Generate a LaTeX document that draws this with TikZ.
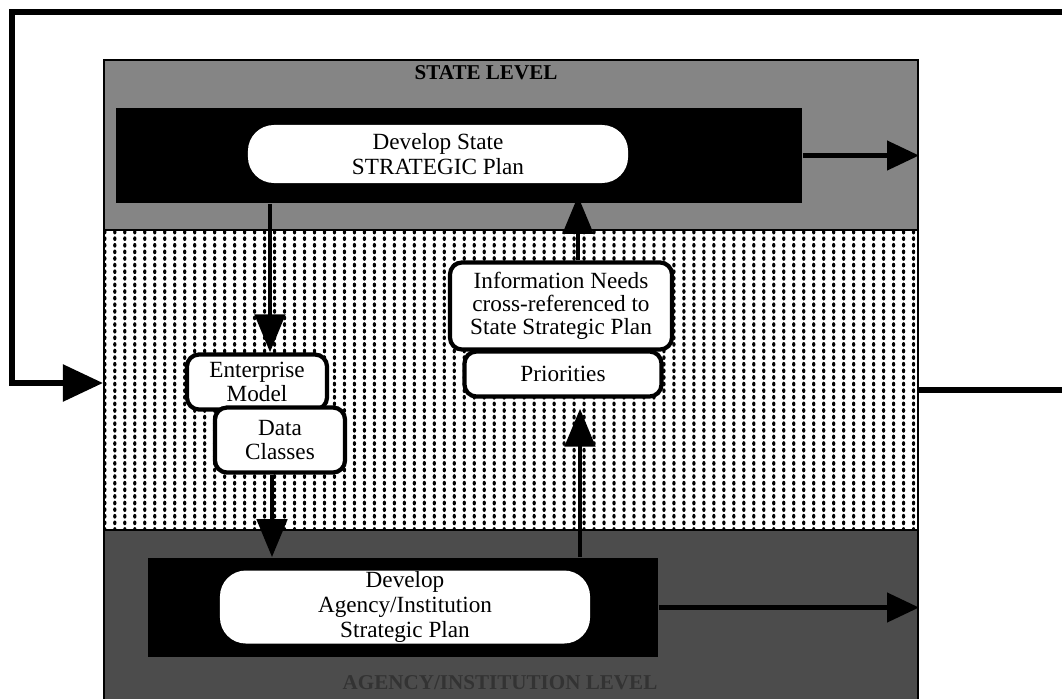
\documentclass[tikz,border=0pt]{standalone}
\usepackage{fontspec}
\setmainfont{Liberation Serif}
\usetikzlibrary{arrows.meta, positioning, fit, patterns.meta}
\definecolor{cstate}{gray}{0.52}
\definecolor{cagency}{gray}{0.30}
\tikzdeclarepattern{
  name=middots,
  type=colored,
  bottom left={(-.1pt,-.1pt)},
  top right={(7.2pt,4.8pt)},
  tile size={(7.1pt,4.7pt)},
  code={
    \tikzset{x=1pt,y=1pt}
    \fill[black] (3.55,2.35) ellipse [x radius=1.2, y radius=1.7];
  }
}
\tikzset{
  every picture/.style={line width=1.2pt},
  band/.style={draw=black, line width=1.5pt, inner sep=0pt},
  panel/.style={fill=black, inner sep=0pt},
  plan/.style={fill=white, rounded corners=0.65cm, align=center, inner sep=0pt, font=\fontsize{16.5}{17.5}\selectfont},
  box/.style={draw=black, fill=white, line width=3pt, rounded corners=0.3cm, align=center, inner sep=2pt, font=\fontsize{16.5}{16.5}\selectfont},
  arrow/.style={-{Triangle[length=0.95cm, width=0.75cm]}, line width=3.5pt},
  outarrow/.style={-{Triangle[length=0.8cm, width=0.72cm]}, line width=3.5pt},
  feedback/.style={-{Triangle[length=1cm, width=0.9cm]}, line width=4pt},
  level/.style={font=\fontsize{15}{15}\selectfont\bfseries},
}

\begin{document}
\begin{tikzpicture}[x=0.025cm, y=0.025cm]
  \useasboundingbox (0,0) rectangle (1062,-698);
  % the three levels
  \node[band, fill=cstate, fit={(104,-60) (918,-230)}] (stateband) {};
  \node[band, pattern=middots, fit={(104,-230) (918,-530)}] (midband) {};
  \node[band, fill=cagency, fit={(104,-530) (918,-706)}] (agencyband) {};
  \node[level] (statelabel) at (486,-73) {STATE LEVEL};
  \node[level, text=black!80] (agencylabel) at (500,-683) {AGENCY/INSTITUTION LEVEL};

  \node[panel, fit={(116,-108) (802,-203)}] (statepanel) {};
  \node[panel, fit={(148,-558) (658,-657)}] (agencypanel) {};
  \node[plan, minimum width=9.5cm, minimum height=1.45cm] (stateplan) at (438,-154) {Develop State\\STRATEGIC Plan};
  \node[plan, minimum width=9.25cm, minimum height=1.825cm] (agencyplan) at (405,-607) {Develop\\Agency/Institution\\Strategic Plan};

  \node[box, minimum width=3.5cm, minimum height=1.375cm] (enterprise) at (257,-382) {Enterprise\\Model};
  \node[box, minimum width=3.25cm, minimum height=1.625cm] (dataclasses) at (280,-440) {Data\\Classes};
  \node[box, minimum width=5.55cm, minimum height=2.175cm] (infoneeds) at (561,-306) {Information Needs\\cross-referenced to\\State Strategic Plan};
  \node[box, minimum width=4.925cm, minimum height=1.125cm] (priorities) at (563,-374) {Priorities};

  % vertical flows
  \coordinate (planin) at ([xshift=0.325cm]enterprise.north);
  \coordinate (dataout) at ([xshift=-0.2cm]dataclasses.south);
  \coordinate (prioin) at ([xshift=0.425cm]priorities.south);
  \coordinate (needsout) at ([xshift=0.425cm]infoneeds.north);
  \draw[arrow] (planin |- statepanel.south) -- (planin);
  \draw[arrow] (dataout) -- (dataout |- agencypanel.north);
  \draw[arrow, shorten >=0.25cm] (prioin |- agencypanel.north) -- (prioin);
  \draw[arrow, shorten >=-0.2cm] (needsout) -- (needsout |- statepanel.south);

  \draw[outarrow] (statepanel.east) -- (statepanel.east -| stateband.east);
  \draw[outarrow] (agencypanel.east) -- (agencypanel.east -| agencyband.east);

  % feedback loop round the top
  \coordinate (loopout) at (1075,-390);
  \coordinate (looptop) at (12,-12);
  \coordinate (loopin) at (12,-383);
  \draw[feedback] (loopout -| midband.east) -- (loopout) |- (looptop) -- (loopin) -- (loopin -| midband.west);
\end{tikzpicture}
\end{document}
